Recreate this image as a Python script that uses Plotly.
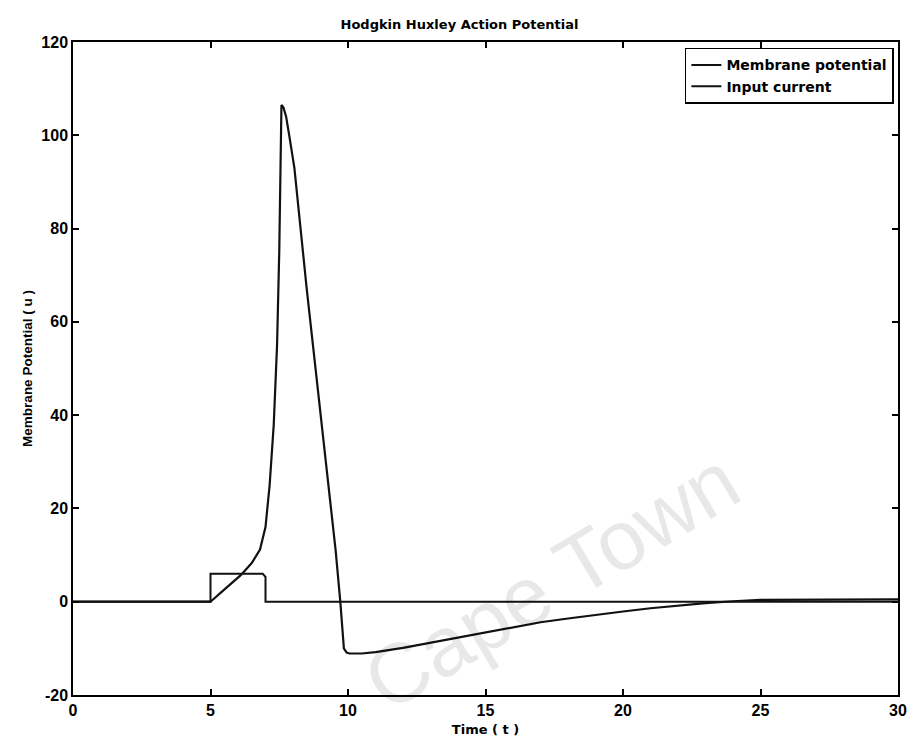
import plotly.graph_objects as go

# Membrane potential (u) over time (t)
t_membrane = [0, 5, 5.5, 6.1, 6.5, 6.8, 7.0, 7.15, 7.3, 7.42, 7.5, 7.55, 7.58, 7.65, 7.75,
              7.87, 8.05, 8.5, 9.0, 9.35, 9.55, 9.72, 9.8, 9.85, 9.95, 10.05, 10.5, 11, 12,
              13, 14, 15, 16, 17, 18, 19, 20, 21, 22, 23, 24, 25, 30]
u_membrane = [0, 0, 2.6, 5.7, 8.3, 11.2, 16, 25, 38, 55, 75, 95, 106.5, 106, 104,
              99.7, 93, 67, 40, 21, 11, 0, -6, -10, -10.9, -11.1, -11.1, -10.8, -9.9,
              -8.8, -7.7, -6.5, -5.4, -4.4, -3.6, -2.8, -2.1, -1.4, -0.8, -0.3, 0.1, 0.4, 0.5]

# Input current over time
t_input = [0, 5, 5, 6.9, 7.0, 7.0, 30]
i_input = [0, 0, 6, 6, 5.3, 0, 0]

x_ticks = [0, 5, 10, 15, 20, 25, 30]
y_ticks = [-20, 0, 20, 40, 60, 80, 100, 120]

FONT = "Liberation Sans, Arial, sans-serif"
WIDE = "DejaVu Sans, Liberation Sans, sans-serif"

fig = go.Figure()
fig.add_trace(go.Scatter(x=t_membrane, y=u_membrane, mode="lines", name="Membrane potential",
                         line=dict(color="#111111", width=2.2)))
fig.add_trace(go.Scatter(x=t_input, y=i_input, mode="lines", name="Input current",
                         line=dict(color="#111111", width=2)))

axis_common = dict(showgrid=False, zeroline=False, showline=True, linecolor="black",
                   linewidth=1.5, mirror="ticks", ticks="inside", ticklen=6, tickwidth=1.5,
                   tickcolor="black",
                   tickfont=dict(family=FONT, size=16, color="black", weight="bold"))

fig.update_xaxes(range=[0, 30], tickvals=x_ticks, ticktext=[str(v) for v in x_ticks],
                 title=dict(text="Time ( t )", font=dict(family=WIDE, size=13, color="black", weight="bold"),
                            standoff=7),
                 **axis_common)
fig.update_yaxes(range=[-20, 120], tickvals=y_ticks, ticktext=[str(v) for v in y_ticks],
                 title=dict(text="Membrane Potential ( u )", font=dict(family=FONT, size=13.5, color="black", weight="bold"),
                            standoff=6),
                 **axis_common)

fig.update_layout(
    width=919, height=747,
    margin=dict(l=73, r=13, t=42, b=50),
    paper_bgcolor="white", plot_bgcolor="white",
    title=dict(text="Hodgkin Huxley Action Potential", x=0.5, xanchor="center", y=0.967, yanchor="middle",
               font=dict(family=WIDE, size=13, color="black", weight="bold")),
    legend=dict(x=0.995, y=0.991, xanchor="right", yanchor="top", bgcolor="white",
                bordercolor="black", borderwidth=1.5,
                font=dict(family=WIDE, size=14, color="black", weight="bold"),
                tracegroupgap=0, itemwidth=30),
    showlegend=True,
    annotations=[dict(text="Cape Town", x=17.4, y=4.5, xref="x", yref="y", showarrow=False,
                      textangle=-31, font=dict(family=FONT, size=84, color="rgba(0,0,0,0.09)"))],
)

fig.write_html("out.html")
